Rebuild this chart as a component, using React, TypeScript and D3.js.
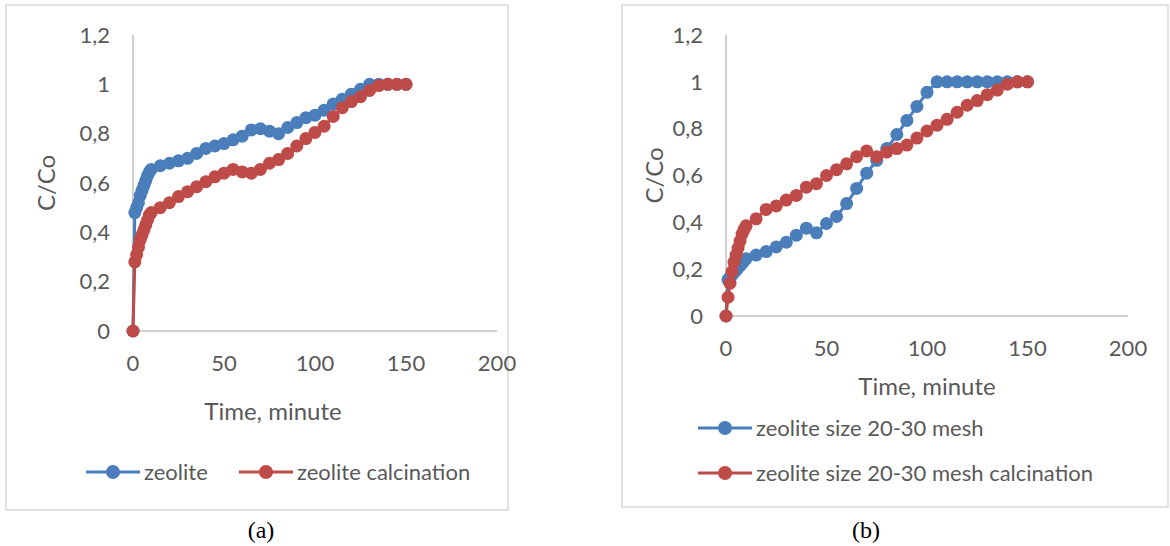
import React from 'react';
import * as d3 from 'd3';

// time axis (minutes) shared by every series
const times = [0, 1, 2, 3, 4, 5, 6, 7, 8, 9, 10, 15, 20, 25, 30, 35, 40, 45, 50, 55, 60, 65, 70, 75, 80, 85,
  90, 95, 100, 105, 110, 115, 120, 125, 130, 135, 140, 145, 150];

// chart (a)
const zeolite = [0, 0.48, 0.5, 0.52, 0.55, 0.57, 0.59, 0.61, 0.63, 0.645, 0.655, 0.67, 0.68, 0.69, 0.7, 0.72,
  0.74, 0.75, 0.76, 0.775, 0.79, 0.815, 0.82, 0.81, 0.8, 0.825, 0.845, 0.865, 0.875, 0.895, 0.92, 0.94, 0.96,
  0.98, 1, 1, 1, 1, 1];
const zeoliteCalc = [0, 0.28, 0.31, 0.34, 0.37, 0.39, 0.41, 0.43, 0.45, 0.47, 0.48, 0.5, 0.52, 0.545, 0.565,
  0.585, 0.605, 0.625, 0.64, 0.655, 0.645, 0.64, 0.655, 0.68, 0.695, 0.72, 0.75, 0.78, 0.805, 0.83, 0.87,
  0.905, 0.93, 0.95, 0.975, 0.995, 1, 1, 1];

// chart (b)
const mesh = [0, 0.155, 0.165, 0.175, 0.185, 0.195, 0.205, 0.215, 0.225, 0.235, 0.245, 0.26, 0.275, 0.295,
  0.315, 0.345, 0.375, 0.355, 0.395, 0.425, 0.48, 0.545, 0.61, 0.665, 0.715, 0.775, 0.835, 0.895, 0.955, 1, 1,
  1, 1, 1, 1, 1, 1, 1, 1];
const meshCalc = [0, 0.08, 0.14, 0.19, 0.23, 0.26, 0.29, 0.32, 0.35, 0.37, 0.385, 0.415, 0.455, 0.47, 0.495,
  0.515, 0.55, 0.565, 0.6, 0.625, 0.65, 0.68, 0.705, 0.68, 0.7, 0.715, 0.73, 0.76, 0.79, 0.815, 0.84, 0.87,
  0.9, 0.92, 0.945, 0.965, 0.99, 1, 1];

const xTicks = [0, 50, 100, 150, 200];
const yTicks = [0, 0.2, 0.4, 0.6, 0.8, 1, 1.2];

const BLUE = '#4a7ebb';
const RED = '#be4b48';
const TEXT = '#595959';
const FONT = 'Lato, "Open Sans", sans-serif';

const fmt = (v: number) => d3.format('.1~f')(v).replace('.', ',');

type Series = { name: string; values: number[]; color: string };

function Panel({ frame, plot, series, xTitle, yTitleX, legend, caption }: any) {
  const x = d3.scaleLinear().domain([0, 200]).range([plot.left, plot.right]);
  const y = d3.scaleLinear().domain([0, 1.2]).range([plot.bottom, plot.top]);
  const line = d3.line<number>()
    .x((_, i) => x(times[i]))
    .y(d => y(d));

  return (
    <g>
      <rect x={frame.x} y={frame.y} width={frame.w} height={frame.h} fill="#fff" stroke="#d9d9d9" strokeWidth={1.5} />

      {/* axes */}
      <line x1={x(0)} x2={x(0)} y1={y(0)} y2={y(1.2)} stroke="#bfbfbf" strokeWidth={1.5} />
      <line x1={x(0)} x2={x(200)} y1={y(0)} y2={y(0)} stroke="#bfbfbf" strokeWidth={1.5} />
      {yTicks.map(t => (
        <text key={t} x={x(0) - 23} y={y(t)} dy="0.35em" textAnchor="end" fill={TEXT} fontSize={22} fontFamily={FONT}>{fmt(t)}</text>
      ))}
      {xTicks.map(t => (
        <text key={t} x={x(t)} y={y(0) + 32} dy="0.35em" textAnchor="middle" fill={TEXT} fontSize={22} fontFamily={FONT}>{t}</text>
      ))}
      <text x={xTitle.x} y={xTitle.y} dy="0.35em" textAnchor="middle" fill={TEXT} fontSize={24} fontFamily={FONT}>Time, minute</text>
      <text transform={`translate(${yTitleX},${(y(0) + y(1.2)) / 2}) rotate(-90)`} dy="0.35em" textAnchor="middle" fill={TEXT} fontSize={24} fontFamily={FONT}>C/Co</text>

      {/* series */}
      {series.map((s: Series) => (
        <g key={s.name}>
          <path d={line(s.values) || ''} fill="none" stroke={s.color} strokeWidth={3} />
          {s.values.map((v, i) => (
            <circle key={i} cx={x(times[i])} cy={y(v)} r={6.5} fill={s.color} />
          ))}
        </g>
      ))}

      {/* legend */}
      {series.map((s: Series, i: number) => (
        <g key={s.name} transform={`translate(${legend[i].x},${legend[i].y})`}>
          <line x1={0} x2={54} y1={0} y2={0} stroke={s.color} strokeWidth={3} />
          <circle cx={27} cy={0} r={7} fill={s.color} />
          <text x={58} y={0} dy="0.35em" fill={TEXT} fontSize={22} fontFamily={FONT}>{s.name}</text>
        </g>
      ))}

      <text x={caption.x} y={caption.y} dy="0.35em" textAnchor="middle" fill="#000" fontSize={24} fontFamily='"Liberation Serif", serif'>{caption.text}</text>
    </g>
  );
}

export default function App() {
  return (
    <svg width={1170} height={546} style={{ position: 'absolute', left: 0, top: 0, background: '#fff' }}>
      <Panel
        frame={{ x: 6, y: 5, w: 502, h: 505 }}
        plot={{ left: 133, right: 497, top: 35, bottom: 331 }}
        xTitle={{ x: 273, y: 412 }}
        yTitleX={47}
        series={[
          { name: 'zeolite', values: zeolite, color: BLUE },
          { name: 'zeolite calcination', values: zeoliteCalc, color: RED },
        ]}
        legend={[{ x: 86, y: 472 }, { x: 239, y: 472 }]}
        caption={{ x: 261, y: 530, text: '(a)' }}
      />
      <Panel
        frame={{ x: 622, y: 5, w: 546, h: 502 }}
        plot={{ left: 726, right: 1128, top: 35, bottom: 316 }}
        xTitle={{ x: 927, y: 387 }}
        yTitleX={655}
        series={[
          { name: 'zeolite size 20-30 mesh', values: mesh, color: BLUE },
          { name: 'zeolite size 20-30 mesh calcination', values: meshCalc, color: RED },
        ]}
        legend={[{ x: 698, y: 428 }, { x: 698, y: 473 }]}
        caption={{ x: 866, y: 530, text: '(b)' }}
      />
    </svg>
  );
}
